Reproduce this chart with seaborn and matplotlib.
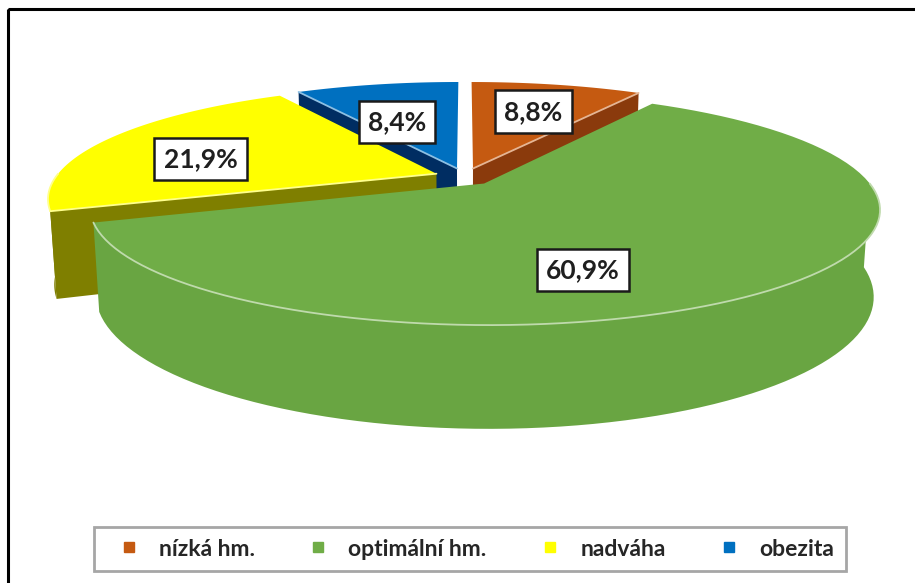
import numpy as np
import matplotlib
matplotlib.use("Agg")
import matplotlib.pyplot as plt
from matplotlib.lines import Line2D
from matplotlib.patches import Rectangle
import seaborn as sns

# data
categories = ["nízká hm.", "optimální hm.", "nadváha", "obezita"]
shares = [8.8, 60.9, 21.9, 8.4]
pct_labels = ["8,8%", "60,9%", "21,9%", "8,4%"]

# style
top_colors = ["#C55A11", "#70AD47", "#FFFF00", "#0070C0"]
side_colors = ["#8A3A0C", "#69A542", "#7F7F00", "#002D62"]
# label placement on the top face: radius fraction, angle shift (deg)
label_r = [0.64, 0.70, 0.66, 0.52]
label_dt = [1, 21, -8, -5]

sns.set_style("white")
plt.rcParams["font.family"] = ["Lato", "DejaVu Sans"]

# 3d pie geometry
phi = np.radians(16.5)
dist = 4.5
depth_h = 0.23
expl = 0.08


def project(X, Z, Y):
    d = dist - Y * np.sin(phi) + Z * np.cos(phi)
    sx = X * dist / d
    sy = (Y * np.cos(phi) + Z * np.sin(phi)) * dist / d
    return sx, sy


vals = np.array(shares, dtype=float)
edges = np.concatenate([[0], np.cumsum(vals) / vals.sum() * 2 * np.pi])

slices = []
for i in range(len(vals)):
    t1, t2 = edges[i], edges[i + 1]
    mid = (t1 + t2) / 2
    ex, ez = expl * np.sin(mid), expl * np.cos(mid)
    slices.append((t1, t2, mid, ex, ez))


def arc(i, ta, tb, Y, n=80):
    t1, t2, mid, ex, ez = slices[i]
    t = np.linspace(ta, tb, n)
    return project(ex + np.sin(t), ez + np.cos(t), np.full_like(t, Y))


def center(i, Y):
    t1, t2, mid, ex, ez = slices[i]
    return project(np.array([ex]), np.array([ez]), np.array([float(Y)]))


# bounding box in projected units -> pixels
pts_x, pts_y = [], []
for i in range(len(vals)):
    for Y in (0, -depth_h):
        ax_, ay_ = arc(i, slices[i][0], slices[i][1], Y)
        pts_x.extend(ax_)
        pts_y.extend(ay_)
pts_x, pts_y = np.array(pts_x), np.array(pts_y)
S = (880 - 48) / (pts_x.max() - pts_x.min())
x0 = 48 - S * pts_x.min()
y0 = 82 + S * pts_y.max()


def px(p):
    return x0 + S * np.asarray(p[0]), y0 - S * np.asarray(p[1])


def light(c, f=0.55):
    rgb = np.array(matplotlib.colors.to_rgb(c))
    return tuple(rgb + (1 - rgb) * f)


fig = plt.figure(figsize=(9.15, 5.83), dpi=100)
ax = fig.add_axes([0, 0, 1, 1])
ax.set_xlim(0, 915)
ax.set_ylim(583, 0)
ax.axis("off")

order = sorted(range(len(vals)), key=lambda k: -np.cos(slices[k][2]))
for i in order:
    t1, t2, mid, ex, ez = slices[i]
    hl = light(top_colors[i])
    # outer wall (front half)
    ta, tb = max(t1, np.pi / 2), min(t2, 3 * np.pi / 2)
    if ta < tb:
        tx, ty = px(arc(i, ta, tb, 0))
        bx, by = px(arc(i, tb, ta, -depth_h))
        ax.fill(np.r_[tx, bx], np.r_[ty, by], color=side_colors[i], lw=0)
        ax.plot(tx, ty, color=hl, lw=1.3)
    # radial faces
    for t, vis in ((t1, np.sin(t1) < -1e-6), (t2, np.sin(t2) > 1e-6)):
        if not vis:
            continue
        ct = px(center(i, 0))
        cb = px(center(i, -depth_h))
        rt = px(arc(i, t, t, 0, n=1))
        rb = px(arc(i, t, t, -depth_h, n=1))
        xs = np.r_[ct[0], rt[0], rb[0], cb[0]]
        ys = np.r_[ct[1], rt[1], rb[1], cb[1]]
        ax.fill(xs, ys, color=side_colors[i], lw=0)
        ax.plot([ct[0][0], rt[0][0]], [ct[1][0], rt[1][0]], color=hl, lw=1.3)
    # top
    cx, cy = px(center(i, 0))
    tx, ty = px(arc(i, t1, t2, 0))
    ax.fill(np.r_[cx, tx], np.r_[cy, ty], color=top_colors[i], lw=0)

# labels
for i in range(len(vals)):
    t1, t2, mid, ex, ez = slices[i]
    r = label_r[i]
    a = mid + np.radians(label_dt[i])
    lx, ly = px(project(np.array([ex + r * np.sin(a)]),
                        np.array([ez + r * np.cos(a)]), np.array([0.0])))
    ax.text(lx[0], ly[0], pct_labels[i], ha="center", va="center",
            fontsize=19, fontweight="bold", color="#1F1F1F",
            bbox=dict(boxstyle="square,pad=0.35", fc="white", ec="#1A1A1A", lw=1.8))

# legend
handles = [Line2D([], [], marker="s", ls="", color=c, markersize=7) for c in top_colors]
leg = ax.legend(handles, categories, loc="center", ncol=4, mode="expand",
                bbox_to_anchor=(83 / 915, 1 - 572 / 583, 774 / 915, 46 / 583),
                bbox_transform=fig.transFigure, frameon=True, fancybox=False,
                framealpha=1, edgecolor="#A6A6A6", handletextpad=0.3,
                borderpad=0.5, prop=dict(size=16.5, weight="bold"))
leg.get_frame().set_linewidth(2)
for txt in leg.get_texts():
    txt.set_color("#262626")

ax.add_patch(Rectangle((8, 9), 1000, 1000, fill=False, ec="black", lw=2.2))

fig.savefig("out.png", dpi=100)
